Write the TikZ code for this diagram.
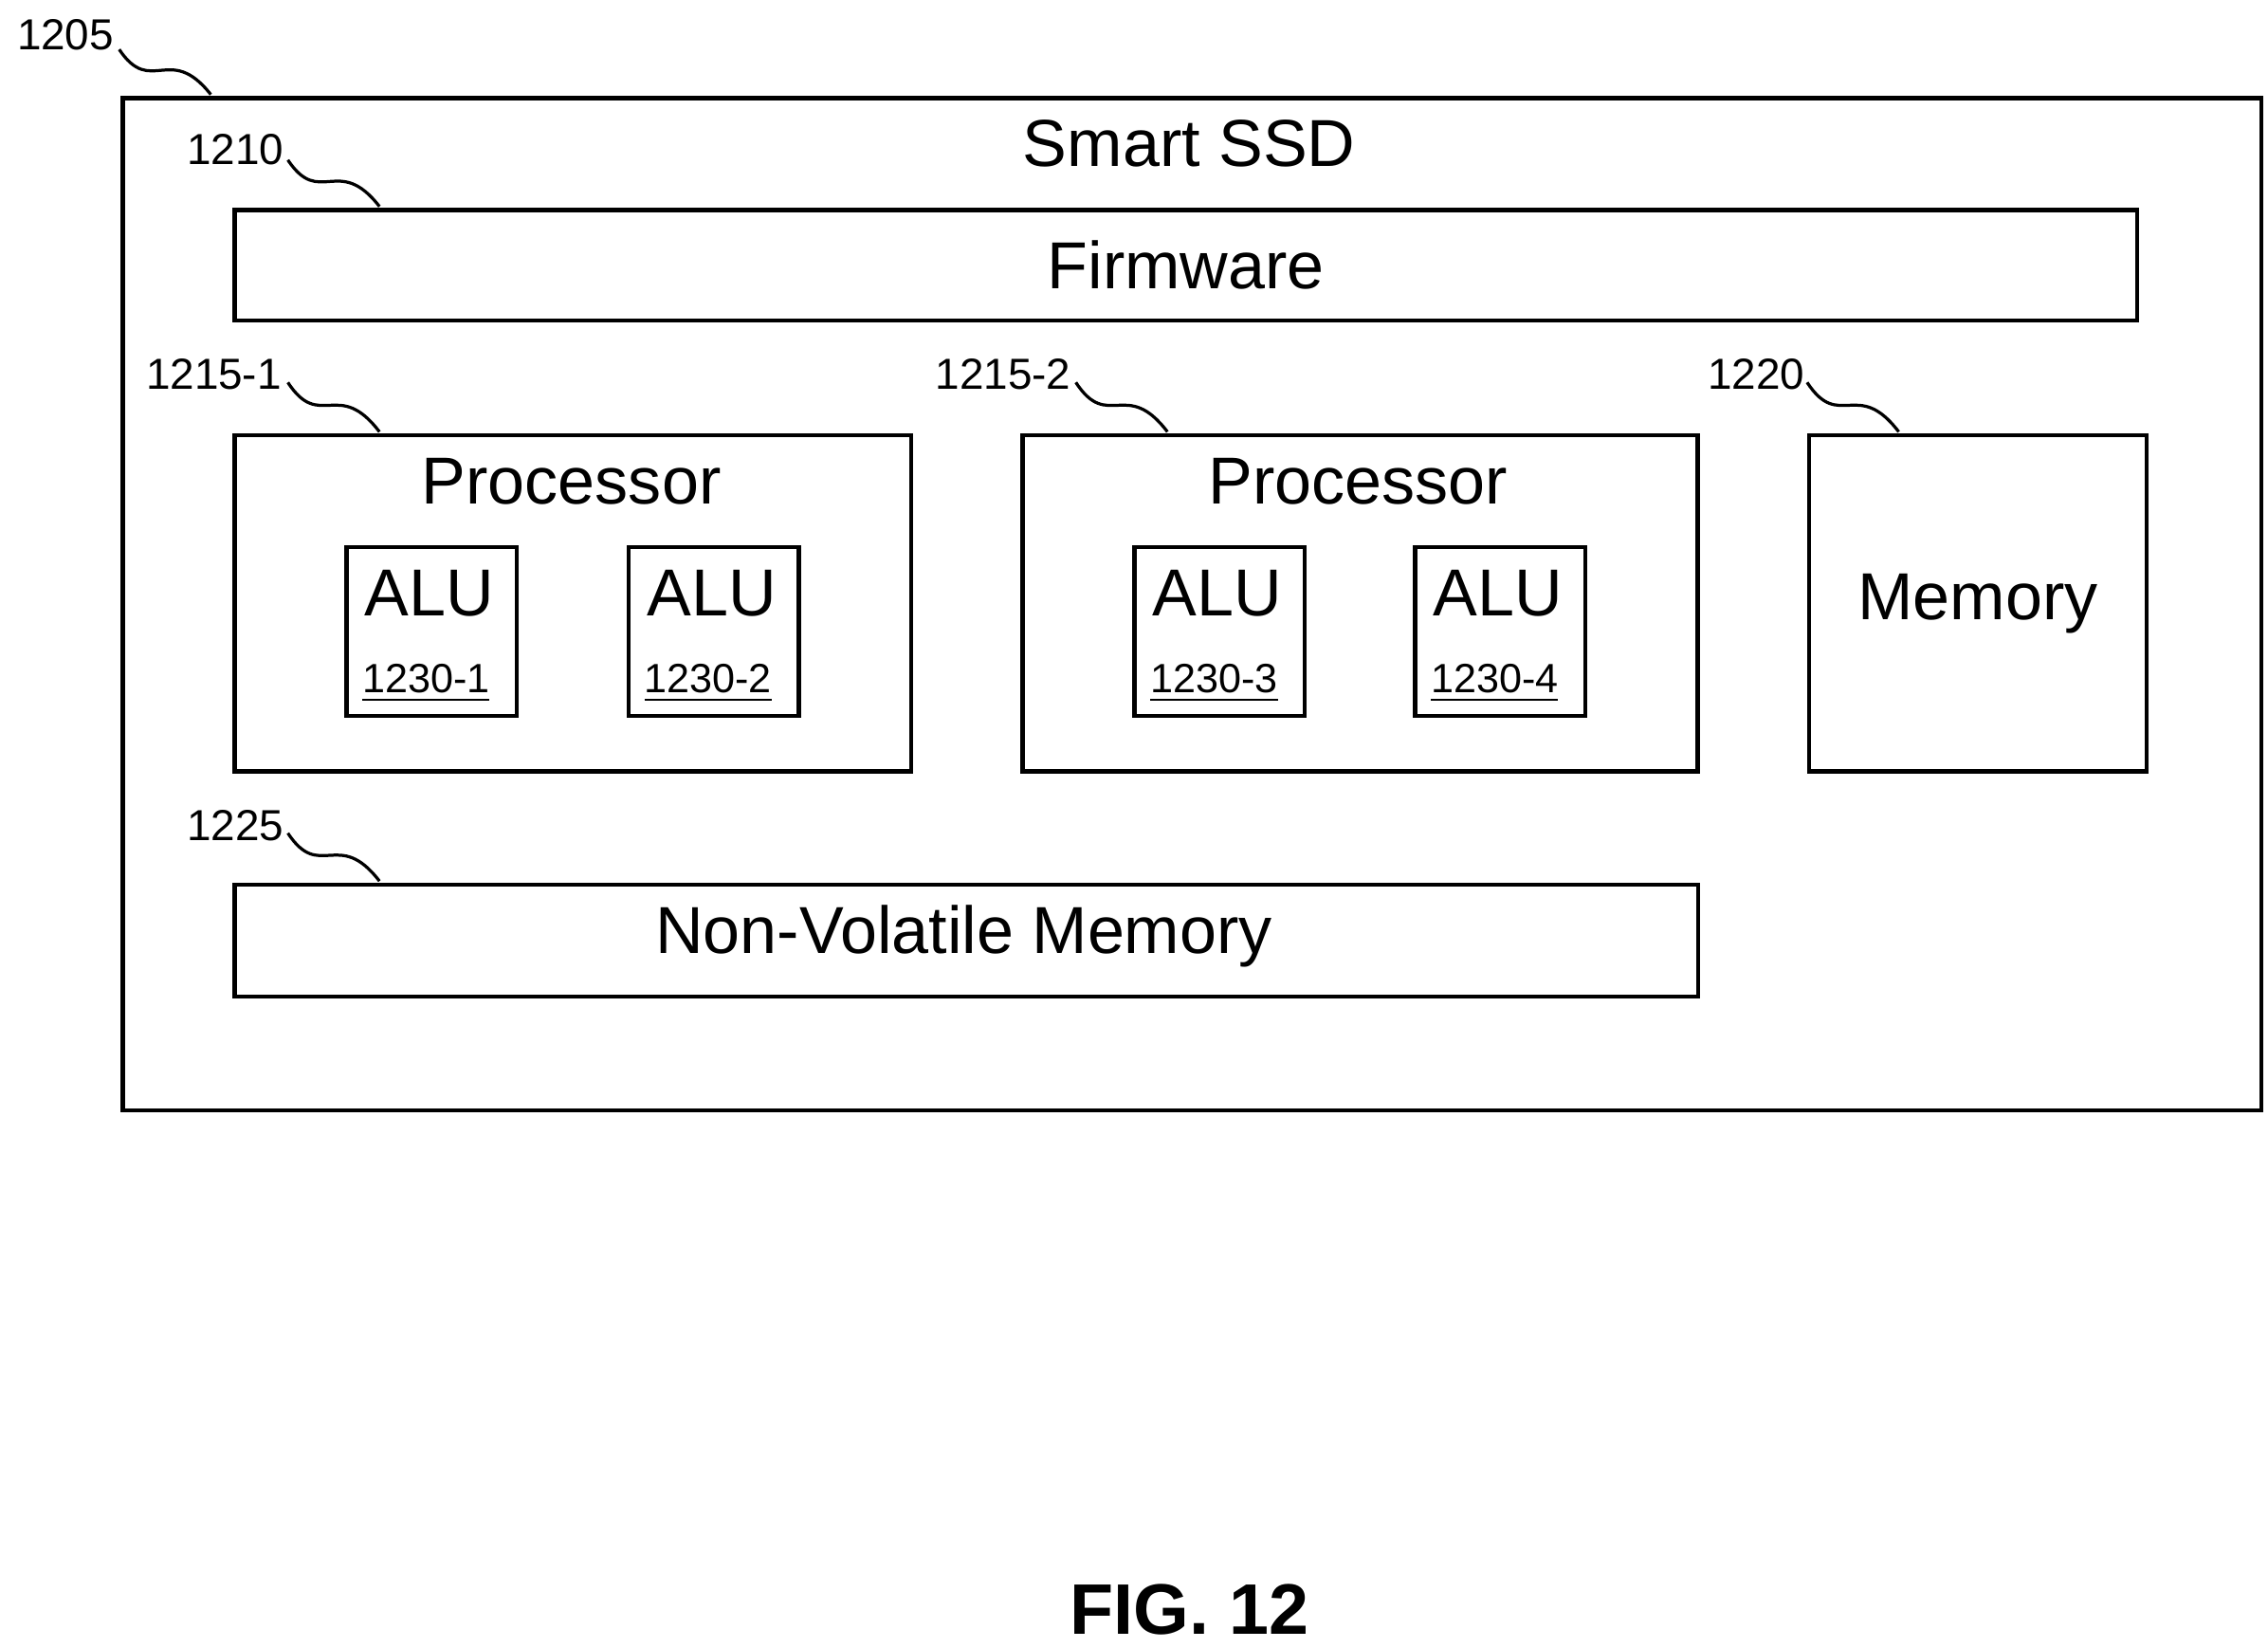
\documentclass[tikz,border=0pt]{standalone}
\usepackage{fontspec}
\setmainfont{Liberation Sans}
\usetikzlibrary{calc}
\begin{document}
\begin{tikzpicture}[x=0.01cm,y=-0.01cm,
  box/.style={draw,line width=0.8pt,inner sep=0,anchor=north west},
  big/.style={font=\fontsize{13}{15}\selectfont},
  lab/.style={font=\fontsize{8.5}{10}\selectfont,anchor=base},
  num/.style={font=\fontsize{8}{10}\selectfont},
  sq/.style={line width=0.6pt}]
\useasboundingbox (0,0) rectangle (1560,1133);
\newcommand{\sqg}[2]{\draw[sq] (#1) .. controls ($(#1)!0.35!(#2)+(0,22)$) and ($(#1)!0.55!(#2)+(0,-22)$) .. (#2);}
\node[box,minimum width=14.70cm,minimum height=6.96cm] (ssd) at (83,66) {};
\node[big] (ssdt) at (818,99) {Smart SSD};
\node[box,minimum width=13.08cm,minimum height=0.76cm] (fw) at (160,143) {};
\node[big] at (fw.center) {Firmware};
\node[box,minimum width=4.65cm,minimum height=2.31cm] (p1) at (160,298) {};
\node[big] at (393,331) {Processor};
\node[box,minimum width=4.64cm,minimum height=2.31cm] (p2) at (702,298) {};
\node[big] at (934,331) {Processor};
\node[box,minimum width=2.32cm,minimum height=2.31cm] (mem) at (1243,298) {};
\node[big] at (mem.center) {Memory};
\node[box,minimum width=10.06cm,minimum height=0.77cm] (nvm) at (160,607) {};
\node[big] at (663,644) {Non-Volatile Memory};
\foreach \x/\n in {237/1,431/2,779/3,972/4}{
  \node[box,minimum width=1.17cm,minimum height=1.16cm] (alu\n) at (\x,375) {};
  \node[big] at (\x+58.5,408) {ALU};
  \node[num] at (\x+56,470) {\underline{1230-\n}};
}
\node[lab] (l1205) at (45,34) {1205};
\node[lab] (l1210) at (162,113) {1210};
\node[lab] (l12151) at (147,268) {1215-1};
\node[lab] (l12152) at (690,268) {1215-2};
\node[lab] (l1220) at (1208,268) {1220};
\node[lab] (l1225) at (162,578) {1225};
\coordinate (c1205a) at (82,34); \coordinate (c1205b) at (145,65);
\coordinate (c1210a) at (198,110); \coordinate (c1210b) at (261,142);
\coordinate (c12151a) at (198,263); \coordinate (c12151b) at (261,297);
\coordinate (c12152a) at (740,263); \coordinate (c12152b) at (803,297);
\coordinate (c1220a) at (1243,263); \coordinate (c1220b) at (1306,297);
\coordinate (c1225a) at (198,573); \coordinate (c1225b) at (261,606);
\sqg{c1205a}{c1205b}\sqg{c1210a}{c1210b}\sqg{c12151a}{c12151b}
\sqg{c12152a}{c12152b}\sqg{c1220a}{c1220b}\sqg{c1225a}{c1225b}
\node[font=\fontsize{14}{16}\selectfont\bfseries] (fig) at (818,1107) {FIG. 12};
\end{tikzpicture}
\end{document}
